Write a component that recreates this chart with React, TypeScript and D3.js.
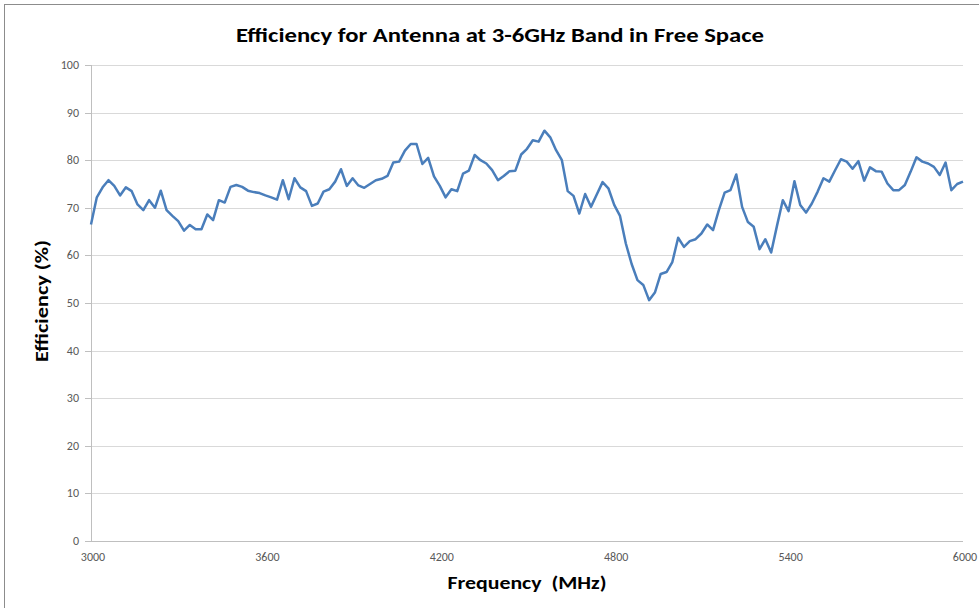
import React from 'react';
import * as d3 from 'd3';

// frequency in MHz, step 20 from 3000 to 6000
const frequencies: number[] = d3.range(3000, 6001, 20);

// efficiency (%)
const efficiency: number[] = [
  66.5, 72.2, 74.3, 75.8, 74.6, 72.6, 74.3, 73.5, 70.7, 69.5,
  71.6, 70.0, 73.6, 69.5, 68.3, 67.2, 65.2, 66.4, 65.5, 65.5,
  68.6, 67.4, 71.6, 71.1, 74.4, 74.8, 74.4, 73.6, 73.3, 73.1,
  72.6, 72.2, 71.7, 75.8, 71.8, 76.2, 74.3, 73.5, 70.4, 70.9,
  73.4, 73.9, 75.5, 78.1, 74.6, 76.2, 74.7, 74.2, 75.0, 75.8,
  76.1, 76.7, 79.5, 79.7, 82.0, 83.4, 83.4, 79.2, 80.5, 76.6,
  74.6, 72.2, 73.9, 73.5, 77.2, 77.8, 81.1, 80.0, 79.3, 77.9,
  75.8, 76.7, 77.7, 77.8, 81.2, 82.4, 84.2, 83.9, 86.2, 84.8,
  82.1, 80.0, 73.5, 72.5, 68.8, 72.9, 70.2, 72.8, 75.4, 74.1,
  70.6, 68.3, 62.5, 58.2, 54.8, 53.8, 50.6, 52.2, 56.1, 56.5,
  58.6, 63.7, 61.8, 63.0, 63.4, 64.6, 66.5, 65.3, 69.5, 73.2,
  73.7, 77.0, 70.2, 67.0, 66.0, 61.3, 63.4, 60.6, 66.2, 71.6,
  69.3, 75.6, 70.6, 69.0, 70.9, 73.4, 76.2, 75.5, 77.9, 80.2,
  79.7, 78.2, 79.8, 75.7, 78.5, 77.7, 77.6, 75.1, 73.7, 73.7,
  74.8, 77.6, 80.6, 79.7, 79.3, 78.6, 76.9, 79.5, 73.7, 75.0,
  75.5,
];

const xTicks: number[] = [3000, 3600, 4200, 4800, 5400, 6000];
const yTicks: number[] = [0, 10, 20, 30, 40, 50, 60, 70, 80, 90, 100];

const title = 'Efficiency for Antenna at 3-6GHz Band in Free Space';
const xTitle = 'Frequency  (MHz)';
const yTitle = 'Efficiency (%)';

const W = 979;
const H = 608;
const margin = { left: 91, right: 16, top: 65, bottom: 67 };
const font = "Carlito, Calibri, 'Liberation Sans', Arial, sans-serif";

export default function App() {
  const x = d3.scaleLinear().domain([3000, 6000]).range([margin.left, W - margin.right]);
  const y = d3.scaleLinear().domain([0, 100]).range([H - margin.bottom, margin.top]);

  const data = frequencies.map((f, i) => ({ f, v: efficiency[i] }));
  const line = d3.line<{ f: number; v: number }>()
    .x(d => x(d.f))
    .y(d => y(d.v));

  const x0 = x(3000);
  const x1 = x(6000);

  return (
    <svg width={W} height={H} style={{ position: 'absolute', left: 0, top: 0, background: '#fff' }}>
      <rect x={4.5} y={4.5} width={W + 20} height={H + 20} fill="#fff" stroke="#8c8c8c" strokeWidth={1} />

      {/* grid */}
      {yTicks.filter(t => t > 0).map(t => (
        <line key={t} x1={x0} x2={x1} y1={Math.round(y(t)) + 0.5} y2={Math.round(y(t)) + 0.5}
          stroke="#d9d9d9" strokeWidth={1} />
      ))}

      {/* axes */}
      <line x1={x0 + 0.5} x2={x0 + 0.5} y1={y(100)} y2={y(0)} stroke="#bfbfbf" />
      <line x1={x0 - 6} x2={x1} y1={Math.round(y(0)) + 0.5} y2={Math.round(y(0)) + 0.5} stroke="#bfbfbf" />
      {yTicks.map(t => (
        <g key={t}>
          <line x1={x0 - 6} x2={x0} y1={Math.round(y(t)) + 0.5} y2={Math.round(y(t)) + 0.5} stroke="#bfbfbf" />
          <text x={x0 - 12} y={y(t) + 4} textAnchor="end" fontSize={12} fill="#595959"
            fontFamily={font}>{t}</text>
        </g>
      ))}
      {xTicks.map(t => (
        <text key={t} x={x(t) + 2} y={y(0) + 20} textAnchor="middle" fontSize={12} fill="#595959"
          fontFamily={font}>{t}</text>
      ))}

      <path d={line(data) || ''} fill="none" stroke="#4a7ebb" strokeWidth={2.5} strokeLinejoin="round" />

      <text x={500} y={42} textAnchor="middle" fontSize={20} fontWeight="bold" fill="#000"
        fontFamily={font} textLength={528} lengthAdjust="spacingAndGlyphs">{title}</text>
      <text x={527} y={589} textAnchor="middle" fontSize={17} fontWeight="bold" fill="#000"
        fontFamily={font} textLength={159} lengthAdjust="spacingAndGlyphs" style={{ whiteSpace: 'pre' }}>{xTitle}</text>
      <text transform="translate(48,301) rotate(-90)" textAnchor="middle" fontSize={17} fontWeight="bold"
        fill="#000" fontFamily={font} textLength={122} lengthAdjust="spacingAndGlyphs">{yTitle}</text>
    </svg>
  );
}
